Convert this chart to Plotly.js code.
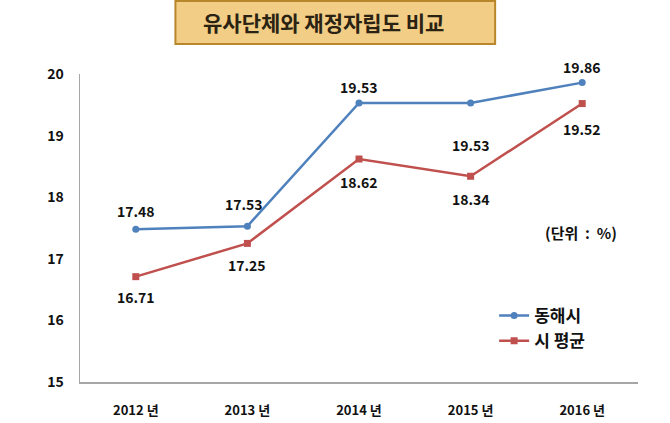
<!DOCTYPE html>
<html><head><meta charset="utf-8">
<script src="https://cdn.plot.ly/plotly-3.0.1.min.js"></script>
<style>body{margin:0;background:#fff}#c{width:670px;height:423px}</style>
</head><body><div id="c"></div>
<script>
const years = ['2012 년','2013 년','2014 년','2015 년','2016 년'];
const donghae = [17.48, 17.53, 19.53, 19.53, 19.86];
const cityAvg = [16.71, 17.25, 18.62, 18.34, 19.52];
const seriesNames = ['동해시','시 평균'];
const titleText = '유사단체와 재정자립도 비교';
const unitText = '(단위  :  %)';

const F = 'Noto Sans CJK KR, Liberation Sans, sans-serif';
const blue = '#4F81BD', red = '#C0504D';

// label offsets (pixels, positive = up) per point
const blueShift = [[0,18],[-3,22],[0,16],[0,-42],[0,16]];
const redShift = [[0,-20],[0,-22],[0,-23],[0,-23],[0,-25]];

const ann = [];
donghae.forEach((v,i)=>ann.push({x:years[i],y:v,text:v.toFixed(2),showarrow:false,xshift:blueShift[i][0],yshift:blueShift[i][1],font:{family:F,size:14,color:'#111',weight:'bold'}}));
cityAvg.forEach((v,i)=>ann.push({x:years[i],y:v,text:v.toFixed(2),showarrow:false,xshift:redShift[i][0],yshift:redShift[i][1],font:{family:F,size:14,color:'#111',weight:'bold'}}));
ann.push({xref:'paper',yref:'paper',x:(581-79.5)/558.5,y:(382-233)/308,xanchor:'center',yanchor:'middle',text:unitText,showarrow:false,font:{family:F,size:15,color:'#111',weight:'bold'}});
ann.push({xref:'paper',yref:'paper',x:(323-79.5)/558.5,y:(382-22)/308,xanchor:'center',yanchor:'middle',text:titleText,showarrow:false,font:{family:F,size:21,color:'#2a2212',weight:'bold'}});

const data = [
 {x:years,y:donghae,name:seriesNames[0],type:'scatter',mode:'lines+markers',line:{color:blue,width:2.5},marker:{symbol:'circle',size:7,color:blue}},
 {x:years,y:cityAvg,name:seriesNames[1],type:'scatter',mode:'lines+markers',line:{color:red,width:2.5},marker:{symbol:'square',size:7,color:red}}
];
const layout = {
 width:670,height:423,
 margin:{l:79.5,r:32,t:74,b:41},
 paper_bgcolor:'#fff',plot_bgcolor:'#fff',
 showlegend:true,
 legend:{x:(494-79.5)/558.5,y:(382-298)/308,xanchor:'left',yanchor:'top',font:{family:F,size:17,color:'#111',weight:'bold'},itemwidth:30,tracegroupgap:0,bgcolor:'rgba(0,0,0,0)'},
 xaxis:{type:'category',range:[-0.5,4.5],showgrid:false,showline:true,linecolor:'#a6a6a6',linewidth:1.5,ticks:'',ticklabelstandoff:16,tickfont:{family:F,size:13,color:'#111',weight:'bold'},zeroline:false,fixedrange:true},
 yaxis:{range:[15,20],dtick:1,showgrid:false,showline:true,linecolor:'#a6a6a6',linewidth:1.5,ticks:'',ticklabelstandoff:12,tickfont:{family:F,size:14,color:'#111',weight:'bold'},zeroline:false,fixedrange:true},
 shapes:[{type:'rect',xref:'paper',yref:'paper',x0:(175-79.5)/558.5,x1:(495-79.5)/558.5,y0:(382-44)/308,y1:(382-1)/308,fillcolor:'#F2CD85',line:{color:'#B8862B',width:2},layer:'below'}],
 annotations:ann
};
Plotly.newPlot('c',data,layout,{displayModeBar:false,staticPlot:true});
</script></body></html>
